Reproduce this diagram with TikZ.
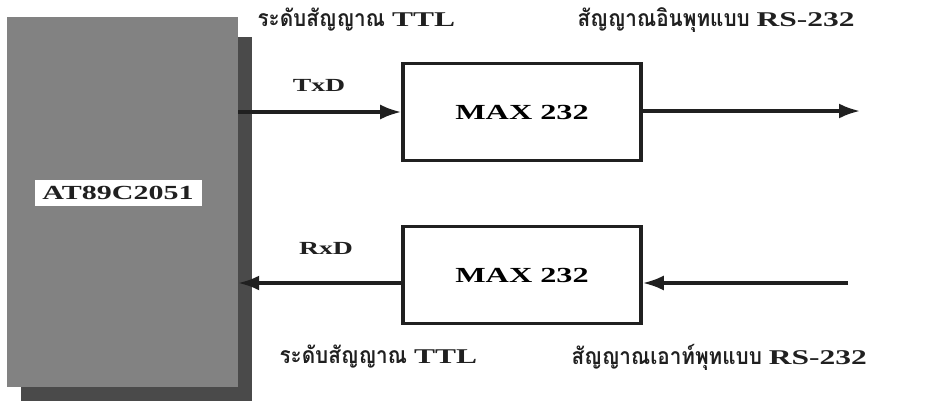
\documentclass[tikz,border=0pt]{standalone}
\usepackage{fontspec}
\setmainfont{Liberation Serif}[FakeStretch=1.5]
\newfontfamily\thaifont[Script=Thai,FakeStretch=0.9]{Loma}
\usepackage{tikz}
\usetikzlibrary{positioning, arrows.meta, shadows}
\definecolor{chipFace} {HTML}{828282}
\definecolor{chipShade}{HTML}{4A4A4A}
\definecolor{cInk}     {HTML}{202020}

\begin{document}
\begin{tikzpicture}[x=1pt, y=-1pt,
    maxbox/.style={draw=cInk, line width=3.6pt, fill=white,
      minimum width=238pt, minimum height=97pt, font=\bfseries\fontsize{21.5}{24}\selectfont},
    sigline/.style={draw=cInk, line width=3.2pt, -{Latex[length=21pt, width=15pt]}},
    pinlbl/.style={font=\bfseries\fontsize{18.5}{20}\selectfont, text=cInk},
    levellbl/.style={font=\thaifont\bfseries\fontsize{23}{26}\selectfont, text=cInk, anchor=west},
    latinpart/.style={font=\normalfont\bfseries\fontsize{21}{24}\selectfont}]
  \useasboundingbox (0,0) rectangle (946,400);
  % microcontroller
  \node[fill=chipFace, minimum width=231pt, minimum height=370pt,
        drop shadow={shadow xshift=14pt, shadow yshift=-20pt, fill=chipShade, opacity=1}] (chip) at (122.5, 202) {};
  \node[fill=white, minimum width=167pt, minimum height=26pt, inner sep=0pt,
        font=\bfseries\fontsize{20}{22}\selectfont, text=cInk] (chipname) at (118, 193) {AT89C2051};
  % level converters
  \node[maxbox] (txbox) at (522, 112) {MAX 232};
  \node[maxbox] (rxbox) at (522, 275) {MAX 232};
  \coordinate (txout) at (860, 111);
  \coordinate (rxin)  at (848, 283);
  % transmit path
  \draw[sigline] (chip.east |- txbox.west) -- (txbox.west);
  \draw[sigline] (txbox.east |- txout) -- (txout);
  \node[pinlbl] (txlbl) at (319, 85) {TxD};
  % receive path
  \draw[sigline] (rxin) -- (rxin -| rxbox.east);
  \draw[sigline] (rxin -| rxbox.west) -- (rxin -| chip.east);
  \node[pinlbl] (rxlbl) at (326, 248) {RxD};
  % signal levels
  \newcommand\lat[1]{{\normalfont\bfseries\fontsize{21}{24}\selectfont #1}}
  \node[levellbl] (ttltop) at (254, 20) {ระดับสัญญาณ \lat{TTL}};
  \node[levellbl] (rsin)   at (574, 20) {สัญญาณอินพุทแบบ \lat{RS-232}};
  \node[levellbl] (ttlbot) at (276, 357) {ระดับสัญญาณ \lat{TTL}};
  \node[levellbl] (rsout)  at (568, 357) {สัญญาณเอาท์พุทแบบ \lat{RS-232}};
\end{tikzpicture}
\end{document}
